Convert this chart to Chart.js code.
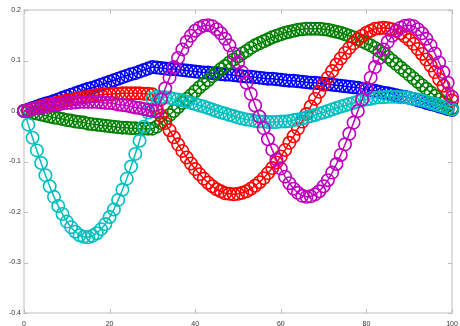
<!DOCTYPE html>
<html>
<head>
<meta charset="utf-8">
<script src="https://cdn.jsdelivr.net/npm/chart.js@4/dist/chart.umd.min.js"></script>
<style>
  html, body { margin: 0; padding: 0; background: #fff; }
  #myChart { display: block; }
</style>
</head>
<body>
<canvas id="myChart" width="460" height="326"></canvas>
<script>
// x positions 0..100, one marker per unit
const xs = [];
for (let i = 0; i <= 100; ++i) {
  xs.push(i);
}

// values, one per x
const blue = [
  0, 0.003, 0.006, 0.009, 0.012, 0.015, 0.017, 0.020, 0.023, 0.026,
  0.029, 0.032, 0.035, 0.038, 0.041, 0.044, 0.046, 0.049, 0.052, 0.055,
  0.058, 0.061, 0.064, 0.067, 0.070, 0.073, 0.075, 0.078, 0.081, 0.084,
  0.087, 0.086, 0.085, 0.084, 0.083, 0.083, 0.082, 0.081, 0.080, 0.079,
  0.078, 0.077, 0.076, 0.076, 0.075, 0.074, 0.073, 0.072, 0.072, 0.071,
  0.070, 0.069, 0.068, 0.068, 0.067, 0.066, 0.065, 0.064, 0.064, 0.063,
  0.062, 0.061, 0.060, 0.060, 0.059, 0.058, 0.057, 0.056, 0.056, 0.055,
  0.054, 0.053, 0.052, 0.051, 0.050, 0.049, 0.048, 0.047, 0.046, 0.044,
  0.043, 0.041, 0.040, 0.038, 0.036, 0.035, 0.033, 0.031, 0.029, 0.028,
  0.026, 0.024, 0.021, 0.019, 0.016, 0.014, 0.012, 0.009, 0.007, 0.004,
  0.002
];
const green = [
  0, -0.002, -0.004, -0.005, -0.007, -0.009, -0.011, -0.013, -0.014, -0.016,
  -0.018, -0.019, -0.021, -0.022, -0.023, -0.025, -0.026, -0.027, -0.028, -0.029,
  -0.030, -0.031, -0.032, -0.033, -0.033, -0.034, -0.034, -0.035, -0.035, -0.035,
  -0.035, -0.031, -0.024, -0.016, -0.008, 0.000, 0.008, 0.016, 0.024, 0.031,
  0.039, 0.047, 0.054, 0.061, 0.069, 0.076, 0.083, 0.089, 0.096, 0.102,
  0.108, 0.114, 0.119, 0.125, 0.130, 0.134, 0.138, 0.142, 0.146, 0.149,
  0.152, 0.155, 0.157, 0.159, 0.161, 0.162, 0.163, 0.163, 0.163, 0.163,
  0.162, 0.161, 0.159, 0.157, 0.155, 0.152, 0.149, 0.146, 0.142, 0.138,
  0.134, 0.130, 0.125, 0.119, 0.114, 0.107, 0.100, 0.093, 0.086, 0.079,
  0.072, 0.065, 0.058, 0.051, 0.044, 0.037, 0.030, 0.023, 0.017, 0.011,
  0.006
];
const red = [
  0, 0.002, 0.004, 0.007, 0.009, 0.011, 0.013, 0.015, 0.017, 0.019,
  0.021, 0.022, 0.024, 0.026, 0.027, 0.028, 0.030, 0.031, 0.032, 0.033,
  0.033, 0.034, 0.034, 0.035, 0.035, 0.035, 0.035, 0.035, 0.034, 0.034,
  0.033, 0.006, -0.009, -0.024, -0.038, -0.052, -0.066, -0.079, -0.092, -0.104,
  -0.115, -0.125, -0.134, -0.142, -0.149, -0.155, -0.159, -0.163, -0.164, -0.165,
  -0.164, -0.162, -0.159, -0.154, -0.148, -0.141, -0.133, -0.123, -0.113, -0.102,
  -0.090, -0.077, -0.063, -0.050, -0.035, -0.021, -0.006, 0.009, 0.024, 0.038,
  0.052, 0.066, 0.079, 0.092, 0.104, 0.115, 0.125, 0.134, 0.142, 0.149,
  0.155, 0.159, 0.163, 0.164, 0.165, 0.164, 0.162, 0.159, 0.154, 0.148,
  0.141, 0.133, 0.123, 0.113, 0.102, 0.090, 0.077, 0.063, 0.050, 0.035,
  0.021
];
const cyan = [
  0, -0.027, -0.053, -0.078, -0.103, -0.127, -0.149, -0.170, -0.188, -0.204,
  -0.219, -0.230, -0.239, -0.246, -0.249, -0.250, -0.247, -0.242, -0.234, -0.224,
  -0.210, -0.195, -0.176, -0.156, -0.134, -0.110, -0.085, -0.059, -0.031, -0.003,
  0.025, 0.028, 0.027, 0.027, 0.026, 0.024, 0.023, 0.021, 0.019, 0.016,
  0.014, 0.011, 0.009, 0.006, 0.003, 0.000, -0.003, -0.005, -0.008, -0.010,
  -0.013, -0.015, -0.017, -0.018, -0.020, -0.021, -0.021, -0.022, -0.022, -0.022,
  -0.021, -0.021, -0.020, -0.018, -0.017, -0.015, -0.013, -0.010, -0.008, -0.005,
  -0.003, 0.000, 0.003, 0.006, 0.009, 0.011, 0.014, 0.016, 0.019, 0.021,
  0.023, 0.024, 0.026, 0.027, 0.027, 0.028, 0.028, 0.028, 0.027, 0.027,
  0.026, 0.024, 0.023, 0.021, 0.019, 0.016, 0.014, 0.011, 0.009, 0.006,
  0.003
];
const magenta = [
  0, 0.002, 0.004, 0.006, 0.007, 0.009, 0.011, 0.012, 0.013, 0.015,
  0.016, 0.016, 0.017, 0.018, 0.018, 0.018, 0.018, 0.018, 0.017, 0.016,
  0.016, 0.015, 0.013, 0.012, 0.011, 0.009, 0.007, 0.006, 0.004, 0.002,
  0.000, 0.000, 0.023, 0.045, 0.066, 0.087, 0.105, 0.122, 0.137, 0.149,
  0.159, 0.165, 0.169, 0.170, 0.168, 0.162, 0.154, 0.143, 0.130, 0.114,
  0.096, 0.077, 0.056, 0.034, 0.011, -0.011, -0.034, -0.056, -0.077, -0.096,
  -0.114, -0.130, -0.143, -0.154, -0.162, -0.168, -0.170, -0.169, -0.165, -0.159,
  -0.149, -0.137, -0.122, -0.105, -0.087, -0.066, -0.045, -0.023, 0.000, 0.023,
  0.045, 0.066, 0.087, 0.105, 0.122, 0.137, 0.149, 0.159, 0.165, 0.169,
  0.170, 0.168, 0.162, 0.154, 0.143, 0.130, 0.114, 0.096, 0.077, 0.056,
  0.028
];

const xTicks = [0, 20, 40, 60, 80, 100];
const yTicks = [-0.4, -0.3, -0.2, -0.1, 0, 0.1, 0.2];

const series = [
  { name: 'blue', values: blue, color: '#0000ff' },
  { name: 'green', values: green, color: '#008000' },
  { name: 'red', values: red, color: '#ff0000' },
  { name: 'cyan', values: cyan, color: '#00bfbf' },
  { name: 'magenta', values: magenta, color: '#bf00bf' }
];

// box around the plot with short inward ticks on all four sides
const boxPlugin = {
  id: 'box',
  beforeDatasetsDraw(chart) {
    const { ctx, chartArea: a, scales } = chart;
    ctx.save();
    ctx.strokeStyle = '#d4d4d4';
    ctx.lineWidth = 1.5;
    ctx.strokeRect(a.left, a.top, a.right - a.left, a.bottom - a.top);
    ctx.lineWidth = 1;
    ctx.strokeStyle = '#bdbdbd';
    ctx.beginPath();
    xTicks.forEach(v => {
      const px = Math.round(scales.x.getPixelForValue(v)) + 0.5;
      ctx.moveTo(px, a.bottom); ctx.lineTo(px, a.bottom - 4);
      ctx.moveTo(px, a.top); ctx.lineTo(px, a.top + 4);
    });
    yTicks.forEach(v => {
      const py = Math.round(scales.y.getPixelForValue(v)) + 0.5;
      ctx.moveTo(a.left, py); ctx.lineTo(a.left + 4, py);
      ctx.moveTo(a.right, py); ctx.lineTo(a.right - 4, py);
    });
    ctx.stroke();
    ctx.restore();
  }
};

const data = {
  labels: xs,
  datasets: series.map((s, i) => ({
    label: s.name,
    data: s.values.map((v, j) => ({ x: xs[j], y: v })),
    borderColor: s.color,
    borderWidth: 1.5,
    pointStyle: 'circle',
    pointRadius: 6.2,
    pointBorderWidth: 1.6,
    pointBorderColor: s.color,
    pointBackgroundColor: 'rgba(0,0,0,0)',
    fill: false,
    tension: 0,
    clip: false,
    order: series.length - i
  }))
};

const tickFont = { family: '"Liberation Sans", Arial, sans-serif', size: 7 };

const config = {
  type: 'line',
  data: data,
  plugins: [boxPlugin],
  options: {
    responsive: false,
    animation: false,
    layout: { padding: { top: 10, right: 8, left: 0, bottom: 0 } },
    plugins: {
      legend: { display: false },
      tooltip: { enabled: false }
    },
    scales: {
      x: {
        type: 'linear',
        min: 0,
        max: 100,
        border: { display: false },
        grid: { display: false, drawTicks: false },
        ticks: { stepSize: 20, font: tickFont, color: '#333', padding: 7, maxRotation: 0 },
        afterFit: s => { s.height = 13; s.paddingLeft = 0; s.paddingRight = 0; }
      },
      y: {
        min: -0.4,
        max: 0.2,
        border: { display: false },
        grid: { display: false, drawTicks: false },
        ticks: { stepSize: 0.1, font: tickFont, color: '#333', padding: 3 },
        afterFit: s => { s.width = 24; s.paddingTop = 0; s.paddingBottom = 0; }
      }
    }
  }
};

const myChart = new Chart(document.getElementById('myChart'), config);
</script>
</body>
</html>
